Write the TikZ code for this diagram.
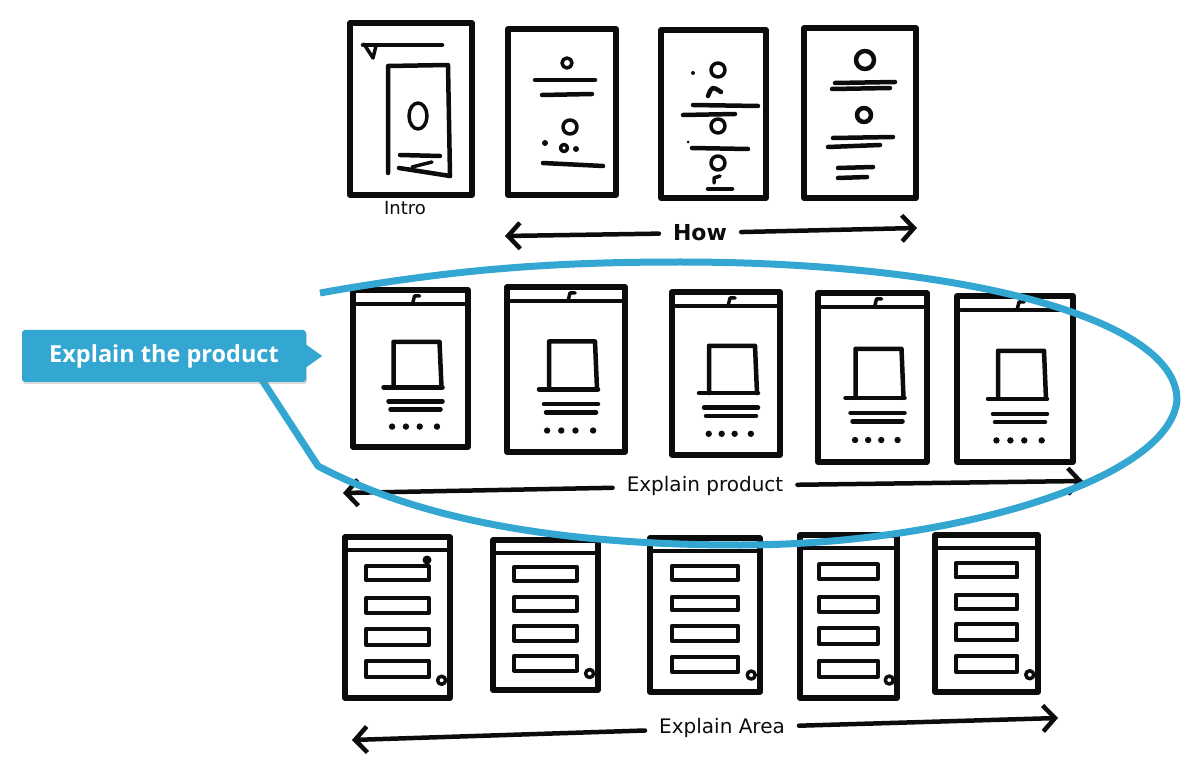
\documentclass[tikz,border=0pt]{standalone}
\usepackage{fontspec}
\usepackage{tikz}
\usetikzlibrary{arrows.meta,positioning,calc,shadows}
\newfontfamily\calloutfont{Open Sans}
\newfontfamily\handfont{DejaVu Sans}
\definecolor{callblue}{RGB}{51,166,210}
\definecolor{ink}{RGB}{12,12,12}
\tikzset{
  phone/.style={draw=ink,line width=5.5pt,anchor=north west,inner sep=0pt,
                outer sep=0pt,line join=round},
  pen/.style={draw=ink,line width=4.5pt,line cap=round,line join=round},
  thinpen/.style={pen,line width=3.5pt},
  bar/.style={pen,line width=4pt},
  sweep/.style={pen,-{Straight Barb[length=12pt,width=26pt]}},
  hand/.style={font=\handfont\fontsize{20}{22}\selectfont,text=ink,
               inner xsep=14pt,inner ysep=2pt},
  ring/.style={draw=callblue,line width=7pt,line join=round},
  tag/.style={fill=callblue,text=white,rounded corners=3pt,
              minimum width=284pt,minimum height=52pt,
              font=\calloutfont\bfseries\fontsize{23.5}{26}\selectfont,
              drop shadow={opacity=0.3,shadow xshift=1pt,shadow yshift=-2pt}},
}
\begin{document}
\begin{tikzpicture}[x=1pt,y=-1pt]
  \useasboundingbox (0,0) rectangle (1200,759);

  % intro and how
  \node[phone,minimum width=122pt,minimum height=172pt] (intro) at (350,23) {};
  \node[phone,minimum width=108pt,minimum height=166pt] (how1) at (508,29) {};
  \node[phone,minimum width=105pt,minimum height=168pt] (how2) at (661,30) {};
  \node[phone,minimum width=112pt,minimum height=170pt] (how3) at (804,28) {};

  \draw[pen] (363,45) -- (442,45);
  \draw[thinpen] (364,44) -- (373,58) -- (376,46);
  \draw[pen] (388,173) -- (388,66) -- (448,65) -- (450,176);
  \draw[thinpen] (418,116) ellipse (9pt and 13pt);
  \draw[pen] (400,155) -- (440,156);
  \draw[thinpen] (412,167) -- (432,162);
  \draw[pen] (399,168) -- (450,176);

  \draw[thinpen] (567,63) circle (5pt);
  \draw[pen] (535,80) -- (595,80);
  \draw[pen] (542,95) -- (592,94);
  \draw[thinpen] (570,127) circle (7pt);
  \fill[ink] (545,143) circle (3pt);
  \draw[thinpen] (564,148) circle (3.5pt);
  \fill[ink] (576,149) circle (3pt);
  \draw[pen] (543,163) -- (603,166);

  \fill[ink] (693,73) circle (2pt);
  \draw[thinpen] (718,70) circle (7pt);
  \draw[pen] (708,96) .. controls (712,86) .. (721,92);
  \draw[pen] (693,105) -- (758,106);
  \draw[pen] (683,115) -- (735,114);
  \draw[thinpen] (718,126) circle (7pt);
  \fill[ink] (688,142) circle (1.5pt);
  \draw[pen] (692,148) -- (748,149);
  \draw[thinpen] (718,163) circle (7pt);
  \draw[thinpen] (714,183) -- (714,178) -- (720,176);
  \draw[pen] (708,189) -- (732,189);

  \draw[pen] (865,60) circle (9pt);
  \draw[pen] (835,83) -- (895,82);
  \draw[pen] (832,89) -- (890,88);
  \draw[pen] (864,115) circle (7pt);
  \draw[pen] (833,138) -- (893,137);
  \draw[pen] (828,147) -- (880,145);
  \draw[pen] (838,168) -- (873,167);
  \draw[pen] (838,178) -- (867,177);

  \node[hand,font=\handfont\fontsize{18}{20}\selectfont] (introlbl) at (405,208) {Intro};
  \node[hand,font=\handfont\bfseries\fontsize{22}{24}\selectfont] (howlbl) at (700,233) {How};
  \coordinate (howL) at (505,236);
  \coordinate (howR) at (917,228);
  \draw[sweep] (howlbl) -- (howL);
  \draw[sweep] (howlbl) -- (howR);

  % explain product
  \foreach \n/\x/\y/\w/\h in {1/353/290/115/157, 2/507/287/118/165,
                              3/672/292/108/163, 4/818/293/109/169,
                              5/957/296/116/166}{
    \node[phone,minimum width=\w pt,minimum height=\h pt] (prod\n) at (\x,\y) {};
    \begin{scope}[shift={(prod\n.north west)}]
      \draw[pen] (4,14) -- (\w-4,14);
      \draw[thinpen] (\w/2+2,14) -- (\w/2+4,6) -- (\w/2+9,6);
      \draw[pen] (\w/2-17,0.62*\h) -- (\w/2-17,0.33*\h) -- (\w/2+29,0.33*\h)
                 -- (\w/2+31,0.62*\h);
      \draw[pen] (\w/2-27,0.62*\h) -- (\w/2+32,0.62*\h);
      \draw[pen] (\w/2-22,0.71*\h) -- (\w/2+32,0.71*\h);
      \draw[pen] (\w/2-20,0.76*\h) -- (\w/2+30,0.76*\h);
      \foreach \d in {0.34,0.46,0.58,0.73}
        \fill[ink] (\d*\w,0.87*\h) circle (3.2pt);
    \end{scope}
  }
  \node[hand] (prodlbl) at (705,486) {Explain product};
  \coordinate (prodL) at (343,493);
  \coordinate (prodR) at (1083,481);
  \draw[sweep] (prodlbl) -- (prodL);
  \draw[sweep] (prodlbl) -- (prodR);

  % explain area
  \foreach \n/\x/\y/\w/\h in {1/345/537/105/161, 2/493/540/105/150,
                              3/650/538/110/154, 4/800/535/97/163,
                              5/935/535/103/157}{
    \node[phone,minimum width=\w pt,minimum height=\h pt] (area\n) at (\x,\y) {};
    \begin{scope}[shift={(area\n.north west)}]
      \draw[pen] (0,13) -- (\w,13);
      \foreach \a/\b in {0.18/0.27,0.38/0.47,0.57/0.67,0.77/0.87}
        \draw[bar] (0.2*\w,\a*\h) rectangle (0.8*\w,\b*\h);
      \draw[thinpen] (0.92*\w,0.89*\h) circle (4pt);
    \end{scope}
  }
  \fill[ink] ($(area1.north west)+(82,23)$) circle (4.5pt);
  \node[hand] (arealbl) at (722,728) {Explain Area};
  \coordinate (areaL) at (352,740);
  \coordinate (areaR) at (1058,718);
  \draw[sweep] (arealbl) -- (areaL);
  \draw[sweep] (arealbl) -- (areaR);

  % highlight
  \coordinate (tagfoot) at (262,380);
  \draw[ring] (320,293) .. controls (460,268) and (560,262) .. (680,262)
    .. controls (960,262) and (1177,318) .. (1177,400)
    .. controls (1170,480) and (950,545) .. (740,545)
    .. controls (560,545) and (420,520) .. (318,466)
    -- (tagfoot);
  \node[tag] (tag) at (164,356) {Explain the product};
  \fill[callblue] ($(tag.east)+(-1,-12)$) -- ($(tag.east)+(16,0)$)
    -- ($(tag.east)+(-1,12)$) -- cycle;
\end{tikzpicture}
\end{document}
